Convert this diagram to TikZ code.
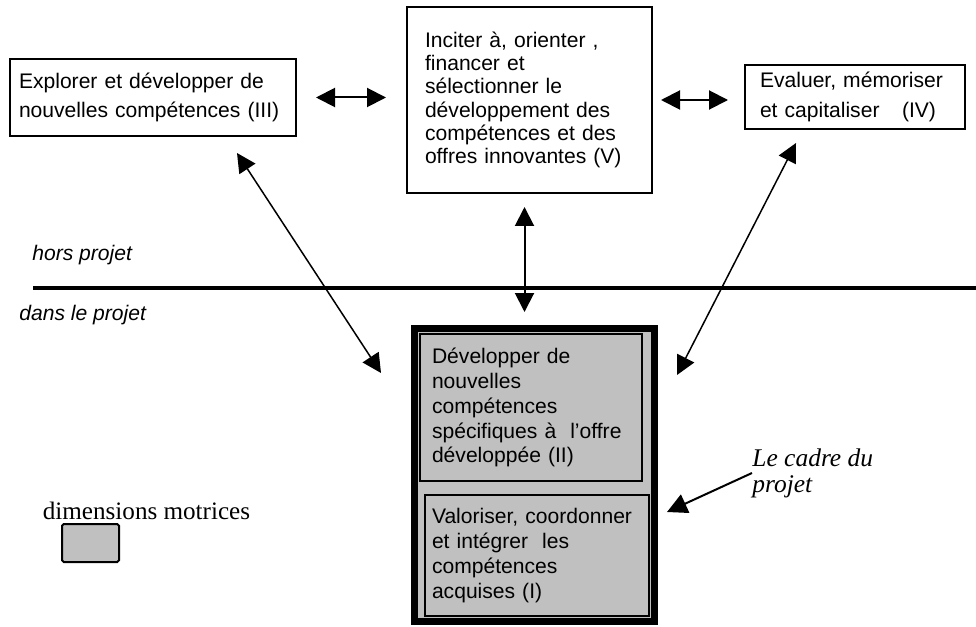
\documentclass[tikz,border=0pt]{standalone}
\usepackage{fontspec}
\setmainfont{Liberation Serif}
\setsansfont{Liberation Sans}
\usetikzlibrary{arrows.meta}
\definecolor{grismoyen}{HTML}{C0C0C0}
\tikzset{boite/.style={draw,line width=0.04cm,align=left,inner ysep=0pt,font=\sffamily\fontsize{12}{14.2}\selectfont},
         grise/.style={boite,fill=grismoyen},
         fleche/.style={line width=0.04cm,{Triangle[length=0.38cm,width=0.38cm]}-{Triangle[length=0.38cm,width=0.38cm]}}}

\begin{document}
\begin{tikzpicture}
                  \useasboundingbox (0,0) rectangle (19.52,12.52);
                  \node[boite,text width=5.36cm,inner xsep=0.18cm,minimum height=1.54cm,font=\sffamily\fontsize{12}{16.6}\selectfont] (explorer) at (3.06,10.57) {Explorer et développer de\\nouvelles compétences (III)};
                  \node[boite,text width=4.18cm,inner xsep=0.36cm,minimum height=3.72cm,font=\sffamily\fontsize{12}{13.2}\selectfont] (inciter) at (10.59,10.52) {Inciter à, orienter ,\\financer et\\sélectionner le\\développement des\\compétences et des\\offres innovantes (V)};
                  \node[boite,text width=3.8cm,inner xsep=0.3cm,minimum height=1.28cm,font=\sffamily\fontsize{12}{17}\selectfont] (evaluer) at (17.1,10.58) {Evaluer, mémoriser\\et capitaliser\hspace{0.45cm}(IV)};
                  \node[draw,line width=0.14cm,fill=grismoyen,minimum width=4.8cm,minimum height=5.86cm,inner sep=0pt] (cadreprojet) at (10.69,3.02) {};
                  \node[grise,line width=0.05cm,text width=3.96cm,inner xsep=0.24cm,minimum height=2.94cm] (specifiques) at (10.62,4.37) {Développer de\\nouvelles\\compétences\\spécifiques à\ \ l'offre\\développée (II)};
                  \node[grise,text width=4.2cm,inner xsep=0.14cm,minimum height=2.42cm] (valoriser) at (10.74,1.41) {Valoriser, coordonner\\et intégrer\ \ les\\compétences\\acquises (I)};
                  \node[anchor=west,inner sep=0pt,font=\sffamily\itshape\fontsize{12}{14}\selectfont] (hors) at (0.64,7.42) {hors projet};
                  \node[anchor=west,inner sep=0pt,font=\sffamily\itshape\fontsize{12}{14}\selectfont] (dans) at (0.38,6.22) {dans le projet};
                  \node[anchor=west,inner sep=0pt,align=left,font=\itshape\fontsize{14.5}{14.8}\selectfont] (cadre) at (15.04,3.06) {Le cadre du\\projet};
                  \node[inner sep=0pt,font=\fontsize{14.3}{16}\selectfont] (legtxt) at (2.93,2.3) {dimensions motrices};
                  \node[draw,line width=0.04cm,fill=grismoyen,rounded corners=1pt,minimum width=1.14cm,minimum height=0.76cm] (legbox) at (1.81,1.66) {};
                  \coordinate (ltop) at ([xshift=-1.2cm,yshift=-0.32cm]explorer.south east);
                  \coordinate (lbot) at ([xshift=-0.6cm,yshift=-0.96cm]cadreprojet.north west);
                  \coordinate (rtop) at ([xshift=1.04cm,yshift=-0.26cm]evaluer.south west);
                  \coordinate (rbot) at ([xshift=0.38cm,yshift=-1cm]cadreprojet.north east);
                  \coordinate (cadretip) at (13.34,2.28);
                  \draw[line width=0.08cm] (0.66,6.76) -- (19.52,6.76);
                  \draw[fleche,shorten <=0.38cm,shorten >=0.4cm] (explorer.east) -- (explorer.east -| inciter.west);
                  \draw[fleche,shorten <=0.16cm,shorten >=0.32cm] (inciter.east) -- (inciter.east -| evaluer.west);
                  \draw[fleche,shorten <=0.26cm,shorten >=0.26cm] ([xshift=-0.1cm]inciter.south) -- ([xshift=-0.1cm]inciter.south |- cadreprojet.north);
                  \draw[fleche,line width=0.03cm] (ltop) -- (lbot);
                  \draw[fleche,line width=0.03cm] (rtop) -- (rbot);
                  \draw[line width=0.04cm,-{Triangle[length=0.4cm,width=0.4cm]}] (cadre.west) -- (cadretip);
              \end{tikzpicture}
\end{document}
